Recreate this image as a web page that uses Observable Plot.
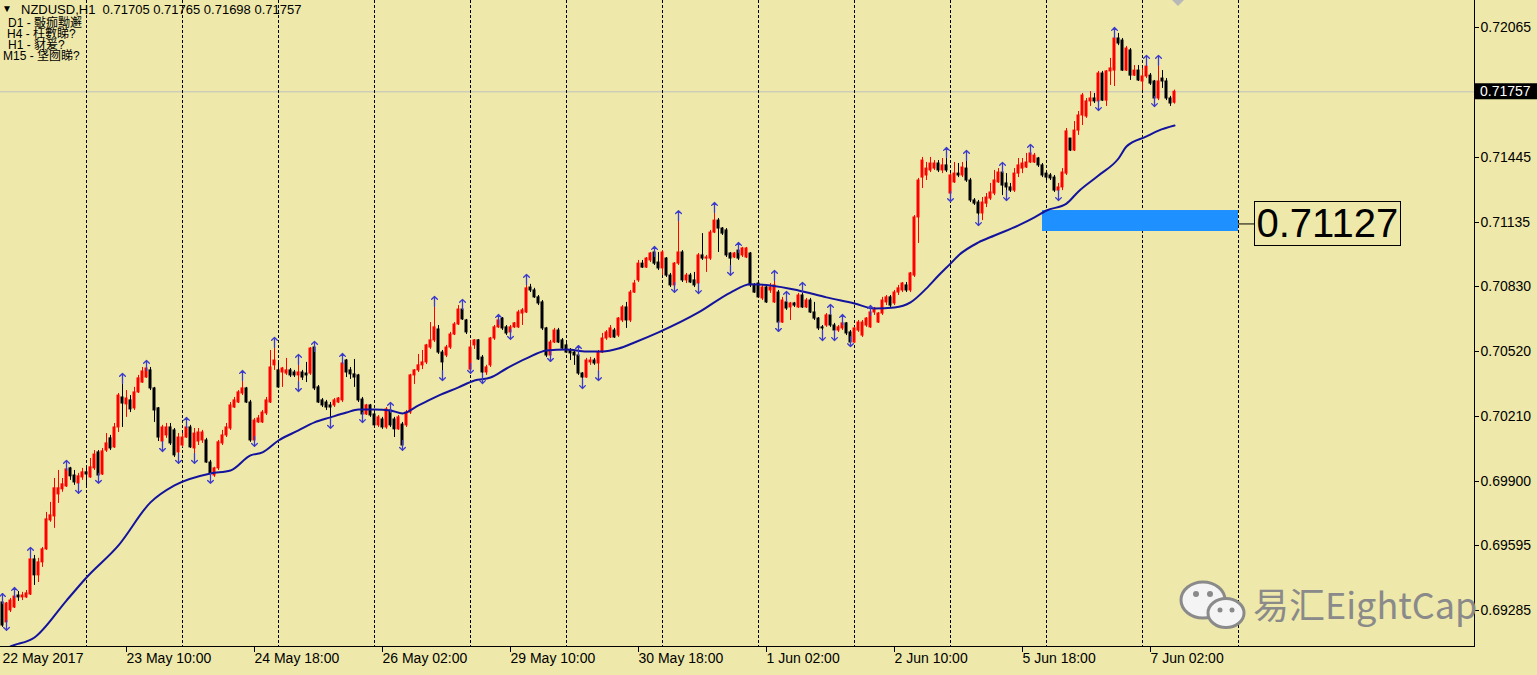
<!DOCTYPE html>
<html><head><meta charset="utf-8">
<script src="https://cdn.jsdelivr.net/npm/d3@7"></script>
<script src="https://cdn.jsdelivr.net/npm/@observablehq/plot@0.6"></script>
<style>
html,body{margin:0;padding:0;background:#EEE8AA;}
#wrap{position:relative;width:1537px;height:675px;overflow:hidden;}
#wrap svg{display:block;}
.hdr{position:absolute;font:13px "Liberation Sans","Noto Sans CJK SC",sans-serif;color:#000;white-space:pre;line-height:11px;height:11px;}
</style></head><body><div id="wrap"></div>
<script>
// NZDUSD H1 bars, prices in points (1e-5), bar index 0 = first visible hour (22 May 2017)
const open=[69323,69228,69285,69299,69356,69347,69347,69361,69528,69452,69514,69576,69714,69733,69838,69862,69876,69962,69928,69890,69919,69943,69919,69962,70038,69933,70047,70105,70062,70157,70300,70267,70286,70248,70324,70371,70395,70429,70343,70248,70090,70119,70157,70143,70038,70071,70109,70157,70057,70090,70095,70095,69990,69928,69962,70081,70119,70152,70252,70276,70319,70343,70276,70095,70181,70181,70224,70276,70453,70429,70419,70414,70429,70419,70405,70419,70414,70414,70538,70348,70286,70276,70262,70262,70276,70286,70476,70429,70410,70405,70290,70219,70262,70219,70167,70195,70157,70238,70195,70148,70171,70167,70228,70405,70429,70453,70467,70538,70572,70624,70514,70500,70538,70600,70648,70719,70667,70433,70548,70572,70490,70419,70453,70581,70634,70676,70634,70610,70634,70634,70700,70705,70824,70810,70777,70753,70629,70500,70562,70619,70572,70548,70524,70514,70500,70414,70395,70467,70476,70462,70514,70581,70586,70619,70595,70667,70729,70667,70800,70858,70938,70919,70953,70991,70943,70915,70962,70881,70834,70938,70991,70858,70881,70858,70843,70977,70962,70962,71086,71143,71105,71096,70986,70967,71000,70977,70967,70986,70834,70843,70772,70824,70810,70753,70800,70657,70753,70729,70748,70729,70786,70729,70762,70705,70676,70634,70643,70691,70643,70619,70629,70653,70610,70562,70619,70595,70643,70634,70705,70657,70700,70753,70777,70748,70800,70810,70834,70810,70881,71158,71348,71358,71382,71391,71415,71382,71406,71272,71325,71367,71358,71391,71334,71239,71229,71177,71224,71248,71272,71325,71372,71320,71301,71286,71367,71391,71396,71420,71420,71439,71406,71367,71358,71348,71286,71301,71367,71534,71477,71572,71644,71639,71711,71725,71711,71844,71715,71854,71858,72011,72001,71858,71954,71834,71858,71806,71830,71834,71806,71725,71820,71806,71725,71705];
const high=[69351,69323,69342,69380,69375,69371,69380,69571,69547,69533,69585,69752,69800,69914,69952,69914,69986,69967,69952,69938,69962,69967,70009,70047,70047,70057,70128,70119,70176,70319,70400,70333,70309,70348,70405,70443,70462,70443,70348,70252,70167,70176,70176,70152,70128,70128,70190,70167,70152,70152,70143,70105,70000,69967,70095,70143,70176,70276,70300,70333,70414,70348,70286,70200,70214,70238,70300,70524,70572,70476,70443,70486,70438,70429,70491,70429,70467,70538,70553,70357,70295,70286,70276,70295,70300,70495,70481,70443,70481,70410,70300,70267,70267,70228,70214,70205,70252,70262,70205,70214,70181,70238,70410,70433,70505,70524,70553,70657,70767,70643,70524,70548,70610,70657,70738,70753,70672,70572,70576,70576,70500,70453,70586,70643,70681,70681,70643,70643,70657,70715,70724,70872,70839,70820,70786,70762,70634,70572,70629,70629,70581,70557,70533,70524,70533,70419,70486,70491,70486,70524,70605,70619,70643,70629,70681,70738,70753,70810,70858,70953,70953,70967,70991,71005,70991,71000,70967,70891,70943,71176,71000,70891,70891,70896,70986,71081,70977,71096,71215,71153,71110,71105,70991,70991,71024,71015,71015,70991,70843,70848,70834,70834,70843,70891,70810,70777,70791,70753,70753,70796,70834,70772,70772,70753,70681,70643,70700,70729,70653,70643,70681,70657,70619,70634,70667,70667,70681,70724,70729,70705,70777,70786,70786,70810,70834,70848,70848,70896,71167,71344,71444,71420,71444,71429,71429,71439,71477,71367,71420,71415,71420,71463,71344,71248,71239,71253,71272,71320,71382,71391,71406,71367,71320,71391,71439,71439,71463,71492,71463,71444,71415,71372,71367,71358,71320,71391,71582,71534,71615,71663,71749,71725,71758,71749,71854,71854,71858,71916,72049,72035,72011,71973,71963,71882,71882,71868,71916,71844,71811,71916,71858,71820,71735,71765];
const low=[69204,69204,69275,69294,69328,69332,69342,69356,69404,69418,69490,69571,69705,69676,69795,69848,69871,69905,69881,69857,69905,69871,69914,69952,69905,69928,70038,70047,70057,70133,70157,70205,70228,70238,70319,70367,70391,70333,70181,70090,70057,70105,70071,70014,70000,70062,70105,70057,70000,70071,70081,69986,69905,69919,69952,70071,70109,70143,70248,70271,70309,70271,70086,70081,70176,70176,70214,70271,70429,70343,70348,70405,70395,70395,70343,70381,70371,70405,70333,70271,70252,70238,70167,70252,70271,70276,70395,70386,70348,70276,70195,70214,70205,70157,70157,70148,70148,70157,70109,70143,70062,70157,70219,70362,70419,70433,70457,70529,70562,70505,70395,70490,70529,70595,70643,70667,70600,70429,70529,70476,70381,70405,70443,70572,70629,70619,70595,70591,70629,70629,70643,70700,70800,70772,70738,70619,70490,70486,70557,70557,70524,70510,70476,70453,70405,70357,70391,70453,70453,70395,70510,70572,70581,70581,70586,70657,70629,70657,70796,70848,70915,70915,70943,70929,70905,70881,70872,70824,70815,70929,70848,70843,70843,70824,70810,70953,70896,70953,71081,70991,71072,70967,70896,70962,70953,70967,70962,70824,70796,70772,70762,70748,70796,70748,70629,70653,70715,70667,70729,70724,70724,70724,70700,70667,70619,70586,70634,70634,70586,70610,70619,70595,70557,70557,70610,70586,70634,70629,70691,70653,70691,70738,70729,70738,70786,70800,70800,70800,70872,71034,71296,71334,71372,71382,71372,71367,71372,71248,71320,71348,71348,71325,71229,71215,71134,71143,71205,71239,71262,71320,71262,71253,71277,71277,71348,71367,71391,71415,71415,71396,71348,71334,71334,71277,71253,71286,71358,71472,71472,71549,71596,71630,71687,71701,71682,71711,71687,71787,71782,71977,71854,71854,71811,71830,71806,71763,71820,71787,71701,71715,71773,71715,71687,71698];
const close=[69213,69318,69332,69351,69347,69356,69366,69528,69452,69514,69576,69719,69738,69867,69867,69886,69957,69924,69895,69924,69943,69933,69967,70028,69928,70043,70081,70057,70157,70309,70271,70295,70243,70324,70391,70424,70438,70343,70238,70109,70157,70157,70081,70024,70109,70109,70157,70062,70128,70133,70133,69990,69938,69962,70086,70119,70157,70262,70286,70324,70343,70276,70095,70190,70200,70228,70286,70443,70476,70348,70438,70429,70405,70405,70419,70395,70405,70533,70343,70276,70262,70252,70252,70286,70295,70462,70419,70410,70395,70286,70219,70262,70214,70167,70205,70157,70243,70167,70148,70205,70071,70228,70405,70429,70453,70467,70548,70572,70634,70514,70467,70538,70600,70648,70719,70672,70610,70538,70572,70481,70419,70443,70581,70634,70667,70629,70605,70634,70653,70705,70715,70820,70810,70777,70748,70629,70500,70562,70619,70562,70533,70514,70510,70500,70414,70395,70476,70476,70462,70514,70581,70610,70629,70586,70676,70729,70667,70800,70843,70938,70919,70962,70986,70938,70915,70991,70881,70834,70938,70991,70858,70881,70848,70834,70977,70962,70967,71086,71143,71105,71081,70977,70962,70986,70962,71010,71010,70834,70800,70777,70824,70753,70824,70834,70657,70762,70724,70748,70738,70786,70729,70762,70705,70676,70629,70629,70691,70643,70619,70634,70653,70605,70562,70629,70657,70657,70676,70705,70724,70700,70762,70777,70738,70800,70820,70843,70810,70891,71158,71334,71429,71391,71415,71415,71382,71406,71382,71358,71367,71358,71396,71334,71239,71224,71177,71229,71253,71277,71334,71372,71310,71301,71286,71367,71406,71415,71420,71463,71453,71406,71358,71348,71344,71286,71301,71372,71568,71477,71572,71644,71739,71711,71725,71711,71844,71715,71854,71868,72011,71987,71858,71963,71834,71858,71811,71830,71877,71796,71725,71806,71806,71725,71701,71757];

// Bill Williams fractal marks (bar indices) as seen on the chart
const fractalUp=[0,3,7,16,30,36,46,60,68,74,78,85,97,108,115,124,131,144,163,169,178,184,193,196,200,207,210,217,236,241,250,257,278,286,289];
const fractalDown=[1,19,24,40,44,48,52,63,74,82,90,100,110,117,120,127,137,145,149,168,174,182,194,205,208,212,237,244,251,264,274,288];

// moving average, bar index / price points
const maIdx=[0,2,8,16,21,29,37,43,52,57,62,65,69,74,78,82,86,89,93,97,100,104,109,114,118,122,126,131,136,141,146,150,154,158,164,174,182,187,192,199,206,213,218,223,227,231,234,237,239,244,248,254,258,261,266,269,274,279,281,286,289,293];
const maVal=[69094,69113,69156,69332,69442,69595,69800,69881,69938,69952,70024,70038,70095,70143,70181,70205,70228,70243,70243,70238,70224,70262,70309,70348,70381,70395,70438,70486,70524,70529,70519,70519,70533,70562,70610,70705,70800,70839,70834,70810,70777,70748,70724,70729,70753,70820,70881,70938,70977,71039,71072,71120,71158,71191,71224,71282,71358,71439,71496,71544,71572,71596];

// day separators (bar index of 00:00)
const separators=[21,45,69,93,117,141,165,189,213,237,261,285,309];
// time axis labels
const xTickIdx=[0,31,63,95,127,159,191,223,255,287];
const xTickLabels=["22 May 2017","23 May 10:00","24 May 18:00","26 May 02:00","29 May 10:00","30 May 18:00","1 Jun 02:00","2 Jun 10:00","5 Jun 18:00","7 Jun 02:00"];
// price axis labels
const yTicks=[0.72065,0.71445,0.71135,0.70830,0.70520,0.70210,0.69900,0.69595,0.69285];
const bidPrice=0.71757;
// zone rectangle and its label
const zoneStart=260, zoneEnd=309, zoneHigh=0.71191, zoneLow=0.71091;
const labelIdx=313, labelValue=0.71127;
const headerLine="NZDUSD,H1  0.71705 0.71765 0.71698 0.71757";
const infoLines=["D1 - 斀痂黝邂","H4 - 枉數睇?","H1 - 豺爰?","M15 - 垡囫睇?"];

const UP="#ff0000", DOWN="#000000";
const bars=open.map((o,i)=>{
  const c=close[i];
  return {i, o:o/1e5, c:c/1e5, h:Math.max(high[i],o,c)/1e5, l:Math.min(low[i],o,c)/1e5, col: c>=o?UP:DOWN};
});
const ma=maIdx.map((k,j)=>({k, v:maVal[j]/1e5}));
const xt=xTickIdx.map((k,j)=>({k, t:xTickLabels[j]}));
const FONT="'Liberation Sans', Arial, sans-serif";
const ARROW="#3a3acc";

const plot=Plot.plot({
  width:1537, height:675,
  marginLeft:0, marginRight:63, marginTop:0, marginBottom:29,
  x:{type:"linear", domain:[-0.5, 368], axis:null},
  y:{type:"linear", domain:[0.69113, 0.72192], axis:null},
  color:{type:"identity"},
  style:{background:"#EEE8AA", fontFamily:FONT, overflow:"visible"},
  marks:[
    Plot.ruleY([bidPrice], {stroke:"#c0c0c0", strokeWidth:1}),
    Plot.ruleX(separators, {x:d=>d, stroke:"#000", strokeWidth:1, strokeDasharray:"3,2"}),
    Plot.rect([{a:zoneStart,b:zoneEnd,lo:zoneLow,hi:zoneHigh}], {x1:"a", x2:"b", y1:"lo", y2:"hi", fill:"#1E90FF"}),
    Plot.ruleY([labelValue], {x1:zoneEnd, x2:labelIdx, stroke:"#000", strokeWidth:1}),
    Plot.ruleX(bars, {x:"i", y1:"l", y2:"h", stroke:"col", strokeWidth:1}),
    Plot.rect(bars, {x1:d=>d.i-0.375, x2:d=>d.i+0.375, y1:"o", y2:"c", fill:"col", insetTop:-0.5, insetBottom:-0.5}),
    Plot.line(ma, {x:"k", y:"v", stroke:"#13139e", strokeWidth:2, curve:"monotone-x", clip:true}),
    Plot.vector(fractalUp, {x:d=>d, y:d=>bars[d].h, rotate:0, length:10, r:5, anchor:"end", dy:-3, stroke:ARROW, strokeWidth:1.3}),
    Plot.vector(fractalDown, {x:d=>d, y:d=>bars[d].l, rotate:180, length:10, r:5, anchor:"end", dy:3, stroke:ARROW, strokeWidth:1.3}),
    Plot.text([{k:labelIdx, v:labelValue, t:labelValue.toFixed(5)}], {x:"k", y:"v", text:"t", textAnchor:"start", dx:2, fontSize:40, fill:"#000"}),
    Plot.text(xt, {x:"k", text:"t", frameAnchor:"bottom", textAnchor:"start", lineAnchor:"top", dy:7, dx:0, fontSize:14, fill:"#000"}),
    Plot.text(yTicks, {y:d=>d, text:d=>d.toFixed(5), frameAnchor:"right", textAnchor:"start", dx:6, fontSize:14, fill:"#000"})
  ]
});
document.getElementById("wrap").appendChild(plot);

// axis lines, tick marks and current price tag, placed with the plot's own scales
const sx=plot.scale("x"), sy=plot.scale("y");
const svg=d3.select(plot);
const right=sx.range[1], bottom=sy.range[0];
const g=svg.append("g").attr("text-anchor","start");
g.append("line").attr("x1",right+0.5).attr("x2",right+0.5).attr("y1",0).attr("y2",bottom).attr("stroke","#000");
g.append("line").attr("x1",0).attr("x2",right+1).attr("y1",bottom+0.5).attr("y2",bottom+0.5).attr("stroke","#000");
yTicks.forEach(v=>{const y=Math.round(sy.apply(v))+0.5;g.append("line").attr("x1",right).attr("x2",right+5).attr("y1",y).attr("y2",y).attr("stroke","#000");});
xTickIdx.slice(1).forEach(k=>{const x=Math.round(sx.apply(k))+0.5;g.append("line").attr("x1",x).attr("x2",x).attr("y1",bottom).attr("y2",bottom+6).attr("stroke","#000");});
const by=sy.apply(bidPrice);
g.append("rect").attr("x",right+1).attr("y",by-8).attr("width",1537-right).attr("height",16).attr("fill","#000");
g.append("text").attr("x",right+6).attr("y",by).attr("dy","0.35em").attr("text-anchor","start").attr("fill","#fff").attr("font-size",14).attr("font-family",FONT).text(bidPrice.toFixed(5));
// chart shift marker
const sxm=sx.apply(bars.length-1)+4;
g.append("path").attr("d",`M${sxm-6},0 L${sxm+6},0 L${sxm},6 Z`).attr("fill","#b8b8b8");
// frame round the zone label (measured on screen, relative to the svg)
const lt=svg.selectAll("text").filter(function(){return this.textContent===labelValue.toFixed(5);}).node();
if(lt){
  const r=lt.getBoundingClientRect(), s=plot.getBoundingClientRect();
  g.append("rect").attr("x",Math.round(r.left-s.left)-2.5).attr("y",Math.round(r.top-s.top)+0.5)
   .attr("width",Math.round(r.width)+4).attr("height",Math.round(r.height))
   .attr("fill","none").attr("stroke","#000");
}
// watermark
const wm=svg.append("g").attr("text-anchor","start");
wm.append("ellipse").attr("cx",1203).attr("cy",600).attr("rx",22).attr("ry",18).attr("fill","#f4f4f4").attr("stroke","#8a8a8a").attr("stroke-width",3);
wm.append("ellipse").attr("cx",1226).attr("cy",613).attr("rx",18).attr("ry",14.5).attr("fill","#f4f4f4").attr("stroke","#8a8a8a").attr("stroke-width",3);
[[1196,594,3],[1210,594,3],[1220,610,2.5],[1232,610,2.5]].forEach(([x,y,r])=>wm.append("circle").attr("cx",x).attr("cy",y).attr("r",r).attr("fill","#8a8a8a"));
wm.append("text").attr("x",1253).attr("y",619).attr("text-anchor","start").attr("font-size",36).attr("font-family","'Noto Sans CJK SC','Noto Sans',sans-serif").attr("fill","#8a8a8a").text("易汇EightCap");

// header texts (the four info lines sit tightly stacked, as in the terminal)
const wrap=document.getElementById("wrap");
function addText(txt,left,top,size){const d=document.createElement("div");d.className="hdr";d.style.left=left+"px";d.style.top=top+"px";if(size){d.style.fontSize=size+"px";}d.textContent=txt;wrap.appendChild(d);}
addText("▼",2,3,10);
addText(headerLine,21,4);
const tops=[17.5,28.5,39.5,50.5], lefts=[8,7,8,3];
infoLines.forEach((t,j)=>addText(t,lefts[j],tops[j],12));
</script></body></html>
